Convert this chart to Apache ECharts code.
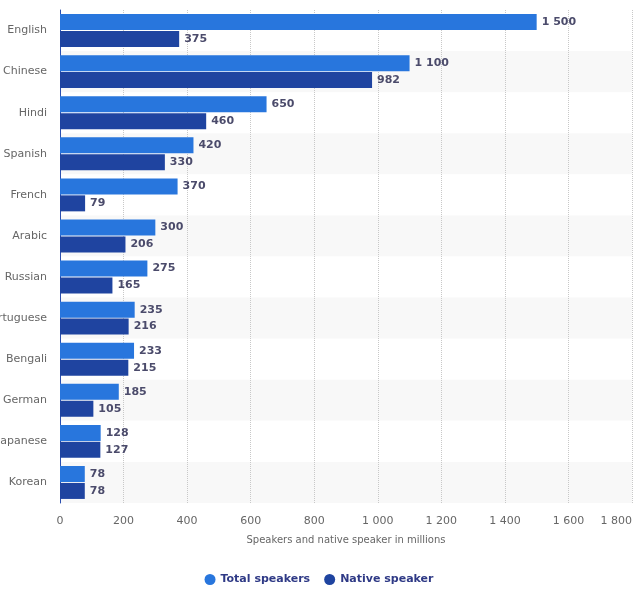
<!DOCTYPE html>
<html><head><meta charset="utf-8">
<script src="https://cdn.jsdelivr.net/npm/echarts@6/dist/echarts.min.js"></script>
<style>html,body{margin:0;padding:0;background:#fff}#c{width:638px;height:592px}</style>
</head><body><div id="c"></div>
<script>
var categories = ["English","Chinese","Hindi","Spanish","French","Arabic","Russian","Portuguese","Bengali","German","Japanese","Korean"];
var totalSpeakers = [1500,1100,650,420,370,300,275,235,233,185,128,78];
var nativeSpeakers = [375,982,460,330,79,206,165,216,215,105,127,78];
var xTicks = {min:0, max:1800, interval:200};

function fmt(v){ return String(v).replace(/\B(?=(\d{3})+(?!\d))/g,' '); }
var chart = echarts.init(document.getElementById('c'));
var labelCfg = {show:true, position:'right', distance:5, fontWeight:'bold', fontSize:11, color:'#4b4b6b', fontFamily:'DejaVu Sans',
  formatter:function(p){return fmt(p.value);}};
chart.setOption({
  animation:false,
  textStyle:{fontFamily:'DejaVu Sans'},
  grid:{left:60, right:6, top:10, bottom:89, containLabel:false, outerBoundsMode:'none'},
  legend:{bottom:2, left:'center', icon:'circle', itemWidth:11, itemHeight:11, itemGap:14,
    textStyle:{fontWeight:'bold', fontSize:11, color:'#2f3a86'},
    data:['Total speakers','Native speaker']},
  xAxis:{type:'value', min:xTicks.min, max:xTicks.max, interval:xTicks.interval,
    name:'Speakers and native speaker in millions', nameLocation:'middle', nameGap:32,
    nameTextStyle:{fontSize:10, color:'#666'},
    axisLine:{show:false}, axisTick:{show:false},
    axisLabel:{color:'#666', fontSize:11, margin:13, formatter:fmt, alignMaxLabel:'right'},
    splitLine:{lineStyle:{type:'dotted', color:'#c8c8c8'}}},
  yAxis:{type:'category', data:categories, inverse:true,
    axisLine:{show:true, lineStyle:{color:'#2b4fb0', width:1}}, axisTick:{show:false},
    axisLabel:{color:'#666', fontSize:11, margin:13},
    splitArea:{show:true, areaStyle:{color:['#ffffff','#f8f8f8']}}},
  series:[
    {name:'Total speakers', type:'bar', data:totalSpeakers, barWidth:16, barGap:'6%',
      itemStyle:{color:'#2876dd'}, label:labelCfg},
    {name:'Native speaker', type:'bar', data:nativeSpeakers, barWidth:16,
      itemStyle:{color:'#1f44a0'}, label:labelCfg}
  ]
});
</script></body></html>
